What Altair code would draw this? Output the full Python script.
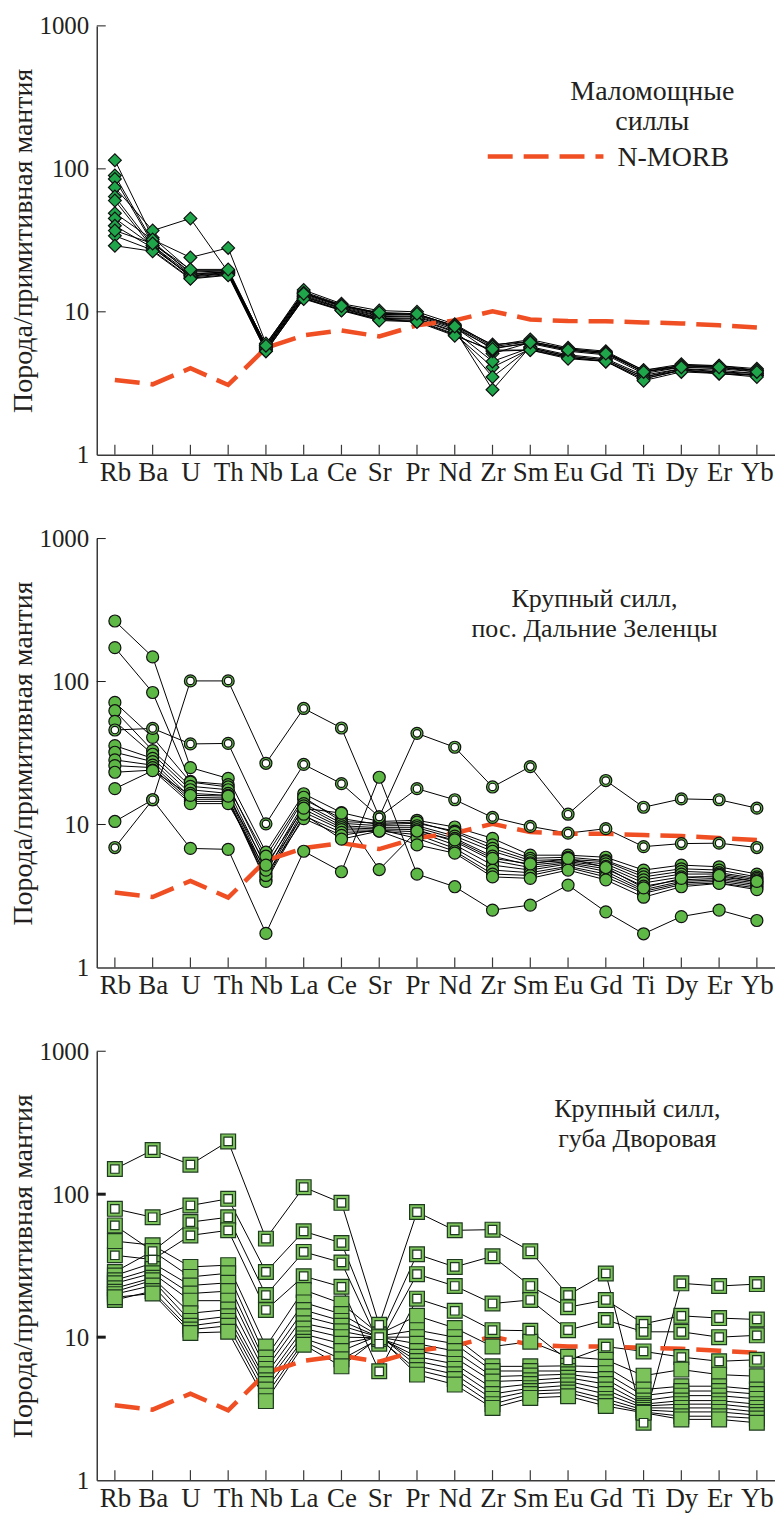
import altair as alt
import pandas as pd

# ---------------- data ----------------
ELEMENTS = ["Rb", "Ba", "U", "Th", "Nb", "La", "Ce", "Sr", "Pr", "Nd",
            "Zr", "Sm", "Eu", "Gd", "Ti", "Dy", "Er", "Yb"]
Y_TICK_VALUES = [1, 10, 100, 1000]
NMORB = [3.34, 3.11, 4.03, 3.08, 5.6, 6.84, 7.41, 6.73, 8.04, 8.71,
         10.1, 8.85, 8.61, 8.6, 8.43, 8.3, 8.04, 7.78]

# Panel 1: Маломощные силлы (diamonds)
P1_S01 = [115, 33, 19.5, 19.5, 5.8, 13.8, 11.2, 9.8, 9.6, 8.0, 5.9, 6.2, 5.5, 5.2, 3.8, 4.2, 4.1, 3.9]
P1_S02 = [90, 31, 18.5, 19.0, 5.6, 13.2, 10.9, 9.4, 9.3, 7.7, 5.6, 6.0, 5.3, 5.0, 3.7, 4.1, 4.0, 3.8]
P1_S03 = [85, 30, 19.0, 19.3, 5.7, 13.5, 11.0, 9.6, 9.5, 7.8, 5.1, 6.1, 5.4, 5.1, 3.8, 4.2, 4.1, 3.9]
P1_S04 = [74, 37, 45, 19.0, 5.9, 14.2, 11.4, 10.2, 10.0, 8.2, 5.8, 6.4, 5.6, 5.3, 3.9, 4.3, 4.2, 4.0]
P1_S05 = [64, 29, 17.5, 18.5, 5.4, 12.5, 10.3, 8.9, 8.7, 7.0, 4.1, 5.5, 4.8, 4.5, 3.4, 3.9, 3.7, 3.6]
P1_S06 = [60, 28, 18.0, 18.8, 5.5, 12.7, 10.5, 9.0, 8.9, 7.2, 3.5, 5.6, 4.9, 4.6, 3.5, 3.9, 3.8, 3.6]
P1_S07 = [49, 32, 24, 28, 6.0, 13.6, 11.1, 9.7, 9.6, 8.0, 5.7, 6.2, 5.5, 5.2, 3.9, 4.2, 4.2, 3.9]
P1_S08 = [45, 29, 18.3, 19.0, 5.6, 13.0, 10.7, 9.3, 9.2, 7.5, 2.85, 5.7, 5.0, 4.7, 3.6, 4.0, 3.9, 3.7]
P1_S09 = [40, 28, 17.8, 18.6, 5.5, 12.8, 10.6, 9.1, 9.0, 7.3, 4.5, 5.6, 4.9, 4.6, 3.5, 4.0, 3.8, 3.7]
P1_S10 = [34, 27, 17.2, 18.2, 5.3, 12.4, 10.3, 8.8, 8.6, 6.9, 5.3, 5.4, 4.8, 4.5, 3.4, 3.9, 3.7, 3.6]
P1_S11 = [29, 26.5, 17.0, 18.0, 5.3, 12.3, 10.2, 8.7, 8.5, 6.8, 5.4, 5.4, 4.7, 4.5, 3.3, 3.8, 3.7, 3.5]
P1_S12 = [37, 30, 19.8, 19.8, 5.8, 13.4, 11.0, 9.9, 9.7, 7.9, 5.5, 6.1, 5.4, 5.1, 3.8, 4.1, 4.1, 3.8]

# Panel 2: Крупный силл, пос. Дальние Зеленцы (circles; O* = open symbols)
P2_F01 = [265, 148.6, 25, 21, 6.4, 16.4, 12.1, 10.5, 10.7, 9.6, 8.0, 6.1, 6.1, 5.9, 4.8, 5.2, 5.06, 4.5]
P2_F02 = [172.6, 83.8, 20, 19, 5.5, 15, 11, 10, 10.2, 9.0, 7.2, 5.8, 5.9, 5.6, 4.5, 4.9, 4.8, 4.3]
P2_F03 = [71.4, 40.7, 19.8, 18.3, 6.0, 15.5, 10.5, 10.2, 10.4, 8.8, 6.8, 5.6, 5.7, 5.5, 4.3, 4.7, 4.6, 4.2]
P2_F04 = [62.5, 32.9, 18.5, 17.5, 5.0, 14, 10.2, 9.8, 9.8, 8.3, 6.5, 5.4, 5.6, 5.3, 4.1, 4.5, 4.5, 4.1]
P2_F05 = [52.6, 31, 17.5, 16.5, 4.6, 13.5, 9.8, 9.5, 9.5, 8.0, 6.0, 5.2, 5.5, 5.1, 3.9, 4.3, 4.3, 4.0]
P2_F06 = [35.6, 29, 16.5, 16, 4.3, 12.8, 9.5, 9.3, 9.2, 7.6, 5.6, 5.0, 5.4, 4.9, 3.7, 4.1, 4.2, 3.9]
P2_F07 = [32, 27.5, 15.5, 15.3, 4.1, 12.2, 9.2, 9.1, 8.9, 7.2, 5.2, 4.8, 5.3, 4.7, 3.5, 4.0, 4.1, 3.8]
P2_F08 = [28.3, 26, 15, 15, 4.0, 11.5, 8.8, 9.0, 8.5, 6.8, 4.8, 4.6, 5.1, 4.5, 3.4, 3.9, 4.0, 3.7]
P2_F09 = [25.8, 25, 14.5, 14.5, 4.4, 11, 8.4, 9.2, 8.0, 6.5, 4.5, 4.4, 5.0, 4.3, 3.3, 3.8, 3.9, 3.6]
P2_F10 = [23.2, 24, 14, 14, 4.8, 11.8, 7.9, 9.0, 7.2, 6.3, 4.3, 4.2, 4.8, 4.1, 3.1, 3.67, 3.87, 3.5]
P2_F11 = [17.8, 23.8, 16, 15.8, 5.2, 13, 12, 4.84, 9.0, 7.8, 5.8, 5.3, 5.8, 5.0, 3.6, 4.2, 4.4, 4.0]
P2_F12 = [10.5, 14.9, 6.8, 6.7, 1.73, 6.5, 4.67, 21.4, 4.5, 3.67, 2.52, 2.73, 3.77, 2.45, 1.72, 2.27, 2.52, 2.13]
P2_O01 = [6.9, 14.9, 101, 101, 26.8, 64.8, 47.3, 11.3, 43.4, 34.7, 18.3, 25.4, 11.8, 20.3, 13.2, 15.1, 14.9, 13]
P2_O02 = [45.8, 47, 36.6, 36.9, 10.1, 26.3, 19.3, 11.3, 17.8, 14.9, 11.2, 9.7, 8.7, 9.35, 7.0, 7.35, 7.4, 6.9]

# Panel 3: Крупный силл, губа Дворовая (squares; O* = open symbols)
P3_O01 = [150, 203.5, 161, 234, 48.9, 112, 87, 12.2, 75, 55.9, 56.5, 39.9, 19.7, 27.9, 2.52, 23.8, 22.8, 23.5]
P3_O02 = [79, 69, 83.4, 92.8, 28.6, 55, 45.6, 10.0, 38, 31, 36.8, 22.8, 16.2, 18.2, 12.4, 14.1, 13.6, 13.3]
P3_O03 = [60.5, 40, 63.8, 69, 19.7, 39.5, 33.3, 9.0, 27.6, 22.8, 17.2, 18.2, 11.2, 13.2, 10.9, 10.9, 10.0, 10.3]
P3_O04 = [37.4, 34.9, 51.5, 55.9, 15.5, 26.7, 22.5, 5.77, 18.6, 15.3, 11.2, 11.1, 6.88, 8.6, 7.95, 7.26, 6.78, 6.95]
P3_F01 = [47, 44, 31, 31.9, 8.6, 21.4, 17.2, 10.5, 14.1, 11.6, 8.6, 9.3, 7.3, 6.95, 5.38, 5.93, 5.47, 5.33]
P3_F02 = [28.6, 40, 26.4, 28, 7.2, 17.5, 14.5, 10.2, 11.2, 10, 6.25, 6.25, 6.3, 6.2, 4.3, 4.54, 4.54, 4.3]
P3_F03 = [27, 33, 23, 24, 6.5, 15.5, 13, 10, 10, 9, 5.8, 5.8, 5.8, 5.6, 3.9, 4.2, 4.2, 4.0]
P3_F04 = [25, 30, 20.2, 21, 6.0, 14, 12, 10, 9, 8, 5.3, 5.4, 5.5, 5.1, 3.6, 3.9, 3.9, 3.7]
P3_F05 = [23.8, 28, 18, 18, 5.5, 12.5, 11, 9.8, 8, 7.2, 4.9, 5.0, 5.2, 4.7, 3.4, 3.6, 3.6, 3.4]
P3_F06 = [22, 26, 14.7, 15.6, 5.0, 11.5, 10, 9.9, 7.3, 6.5, 4.4, 4.7, 4.9, 4.3, 3.3, 3.4, 3.4, 3.2]
P3_F07 = [20.8, 25, 13, 14, 4.7, 10.5, 9, 10.1, 6.8, 6, 4.0, 4.4, 4.6, 4.0, 3.2, 3.2, 3.2, 3.0]
P3_F08 = [20, 23, 12, 13, 4.3, 9.8, 8, 10.3, 6.3, 5.5, 3.7, 4.2, 4.3, 3.7, 3.1, 3.0, 3.0, 2.85]
P3_F09 = [18.2, 21, 11.3, 12, 3.9, 9.3, 7, 9.7, 5.9, 5.1, 3.4, 4.0, 4.1, 3.5, 3.0, 2.8, 2.8, 2.7]
P3_F10 = [19, 20.2, 10.7, 10.9, 3.57, 8.85, 6.25, 10, 5.47, 4.66, 3.2, 3.76, 3.86, 3.3, 2.96, 2.66, 2.66, 2.52]

PANEL1 = {"S01": P1_S01, "S02": P1_S02, "S03": P1_S03, "S04": P1_S04, "S05": P1_S05,
          "S06": P1_S06, "S07": P1_S07, "S08": P1_S08, "S09": P1_S09, "S10": P1_S10,
          "S11": P1_S11, "S12": P1_S12}
PANEL2 = {"F01": P2_F01, "F02": P2_F02, "F03": P2_F03, "F04": P2_F04, "F05": P2_F05,
          "F06": P2_F06, "F07": P2_F07, "F08": P2_F08, "F09": P2_F09, "F10": P2_F10,
          "F11": P2_F11, "F12": P2_F12, "O01": P2_O01, "O02": P2_O02}
PANEL3 = {"O01": P3_O01, "O02": P3_O02, "O03": P3_O03, "O04": P3_O04,
          "F01": P3_F01, "F02": P3_F02, "F03": P3_F03, "F04": P3_F04, "F05": P3_F05,
          "F06": P3_F06, "F07": P3_F07, "F08": P3_F08, "F09": P3_F09, "F10": P3_F10}

LABEL1 = ["Маломощные", "силлы"]
LABEL2 = ["Крупный силл,", "пос. Дальние Зеленцы"]
LABEL3 = ["Крупный силл,", "губа Дворовая"]
LEGEND_TEXT = "N-MORB"
Y_TITLE = "Порода/примитивная мантия"

# ---------------- style ----------------
FONT = "Liberation Serif"
TXT = "#231f20"
RED = "#f04e23"
AXC = "#3a3a3a"
W, H = 680, 430
FS = 25      # tick labels
FSX = 27     # element labels
FST = 28     # title / panel-1 annotation


def long_df(samples):
    rows = []
    for name, vals in samples.items():
        for i, (el, v) in enumerate(zip(ELEMENTS, vals)):
            rows.append({"sample": name, "element": el, "idx": i, "value": v,
                         "open": name.startswith("O")})
    return pd.DataFrame(rows)


def encodings():
    x_enc = alt.X("element:N", sort=ELEMENTS,
                  scale=alt.Scale(type="point", padding=0.48),
                  axis=alt.Axis(title=None, labelAngle=0, ticks=False, tickSize=0,
                                labelPadding=5, labelOverlap=False, grid=False,
                                domainColor=AXC, domainWidth=1.5,
                                labelFont=FONT, labelFontSize=FSX, labelColor=TXT))
    y_enc = alt.Y("value:Q", scale=alt.Scale(type="log", domain=[1, 1000]),
                  axis=alt.Axis(title=Y_TITLE, values=Y_TICK_VALUES, format="d",
                                ticks=False, tickSize=0, labelPadding=8, grid=False,
                                domainColor=AXC, domainWidth=1.5,
                                labelFont=FONT, labelFontSize=FS, labelColor=TXT,
                                titleFont=FONT, titleFontSize=FST, titleFontWeight="normal",
                                titleColor=TXT, titleX=-73, titleY=H / 2, titleAngle=270,
                                titleAlign="center", titleBaseline="middle"))
    return x_enc, y_enc


def panel(samples, shape, fill, stroke, size, inner_size, label, label_xy, label_fs,
          tick_widths, legend=False):
    df = long_df(samples)
    x_enc, y_enc = encodings()
    layers = []
    layers.append(alt.Chart(pd.DataFrame({"element": ELEMENTS})).mark_rule(
        color=AXC, strokeWidth=1.2).encode(x=x_enc, y=alt.value(H), y2=alt.value(H - 10)))
    layers.append(alt.Chart(pd.DataFrame({"value": [10, 100, 1000], "sw": tick_widths})).mark_rule(
        color="#1a1a1a").encode(y=y_enc, x=alt.value(0), x2=alt.value(9),
                                strokeWidth=alt.StrokeWidth("sw:Q", scale=None)))
    layers.append(alt.Chart(df).mark_line(color="black", strokeWidth=1).encode(
        x=x_enc, y=y_enc, detail="sample:N", order="idx:Q"))
    nm = pd.DataFrame({"element": ELEMENTS, "value": NMORB, "idx": range(len(ELEMENTS))})
    layers.append(alt.Chart(nm).mark_line(color=RED, strokeWidth=4.5, strokeDash=[25, 11]).encode(
        x=x_enc, y=y_enc, order="idx:Q"))
    layers.append(alt.Chart(df).mark_point(shape=shape, filled=True, fill=fill, stroke=stroke,
                                           strokeWidth=1.2, size=size, opacity=1).encode(
        x=x_enc, y=y_enc))
    op = df[df["open"]]
    if len(op):
        layers.append(alt.Chart(op).mark_point(shape=shape, filled=True, fill="white", stroke=stroke,
                                               strokeWidth=1.2, size=inner_size, opacity=1).encode(
            x=x_enc, y=y_enc))
    one = pd.DataFrame({"t": [0]})
    layers.append(alt.Chart(one).mark_text(text=label, font=FONT, fontSize=label_fs, color=TXT,
                                           lineHeight=30, align="center", baseline="middle").encode(
        x=alt.value(label_xy[0]), y=alt.value(label_xy[1])))
    if legend:
        layers.append(alt.Chart(one).mark_rule(color=RED, strokeWidth=4.5, strokeDash=[25, 11]).encode(
            x=alt.value(392), x2=alt.value(508), y=alt.value(131)))
        layers.append(alt.Chart(one).mark_text(text=LEGEND_TEXT, font=FONT, fontSize=FST, color=TXT,
                                               align="left", baseline="middle").encode(
            x=alt.value(522), y=alt.value(132)))
    return alt.layer(*layers).properties(width=W, height=H)


p1 = panel(PANEL1, "diamond", "#1fa54a", "#111", 165, 0, LABEL1, (557, 66), FST, [1, 1, 1], legend=True)
p2 = panel(PANEL2, "circle", "#5db846", "#111", 145, 56, LABEL2, (499, 61), 26, [1, 1, 1])
p3 = panel(PANEL3, "square", "#7bc35a", "#1e3a1e", 220, 72, LABEL3, (542, 58), 26, [3, 3, 1])

chart = alt.vconcat(p1, p2, p3, spacing=84, bounds="flush").properties(
    padding={"left": 9, "top": 12, "right": 0, "bottom": 0}
).configure_view(stroke=None)

chart.save("out.html", embed_options={"renderer": "svg", "actions": False})
